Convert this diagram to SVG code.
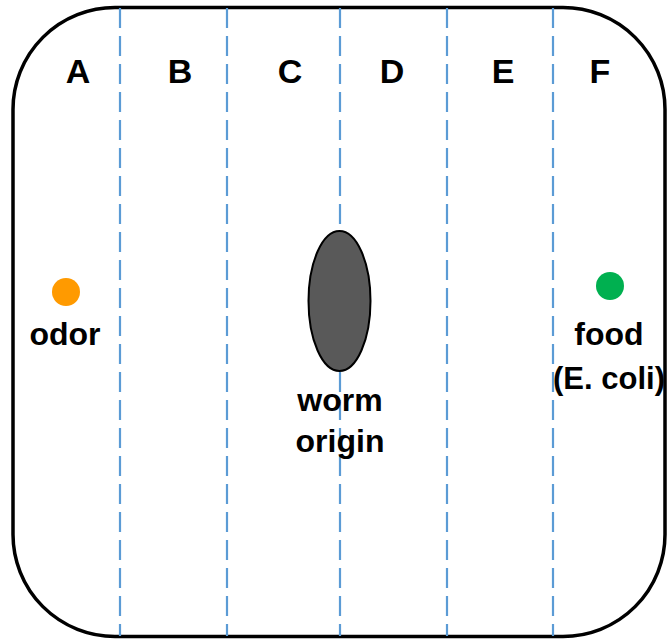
<svg xmlns="http://www.w3.org/2000/svg" width="668" height="640" viewBox="0 0 668 640">
<style>
.lane{stroke:#5B9BD5;stroke-width:2.2;stroke-dasharray:20 8;fill:none}
.lbl{font-family:"Liberation Sans",Arial,sans-serif;font-weight:bold;fill:#000;text-anchor:middle}
.big{font-size:32px}
.cap{font-size:34px}
</style>
<rect width="668" height="640" fill="#fff"/>
<g id="plate">
<rect x="13" y="7.5" width="652" height="629" rx="102" ry="102" fill="#fff" stroke="#000" stroke-width="3.5"/>
</g>
<g id="lanes">
<line class="lane" x1="120" y1="8" x2="120" y2="636"/>
<line class="lane" x1="227" y1="8" x2="227" y2="636"/>
<line class="lane" x1="340" y1="8" x2="340" y2="636"/>
<line class="lane" x1="447" y1="8" x2="447" y2="636"/>
<line class="lane" x1="553" y1="8" x2="553" y2="636"/>
</g>
<g id="letters" class="lbl cap">
<text x="78" y="83">A</text>
<text x="180" y="83">B</text>
<text x="290" y="83">C</text>
<text x="392" y="83">D</text>
<text x="503" y="83">E</text>
<text x="600" y="83">F</text>
</g>
<g id="odor">
<circle cx="66" cy="292" r="14" fill="#FF9A00"/>
<text class="lbl big" x="65" y="345">odor</text>
</g>
<g id="food">
<circle cx="610" cy="286" r="14" fill="#00B050"/>
<text class="lbl big" x="609" y="345">food</text>
<text class="lbl" style="font-size:31px" x="609" y="389">(E. coli)</text>
</g>
<g id="worm">
<ellipse cx="339.5" cy="301" rx="31" ry="70" fill="#595959" stroke="#000" stroke-width="2"/>
<text class="lbl big" x="340" y="411">worm</text>
<text class="lbl big" x="340" y="452">origin</text>
</g>
</svg>
